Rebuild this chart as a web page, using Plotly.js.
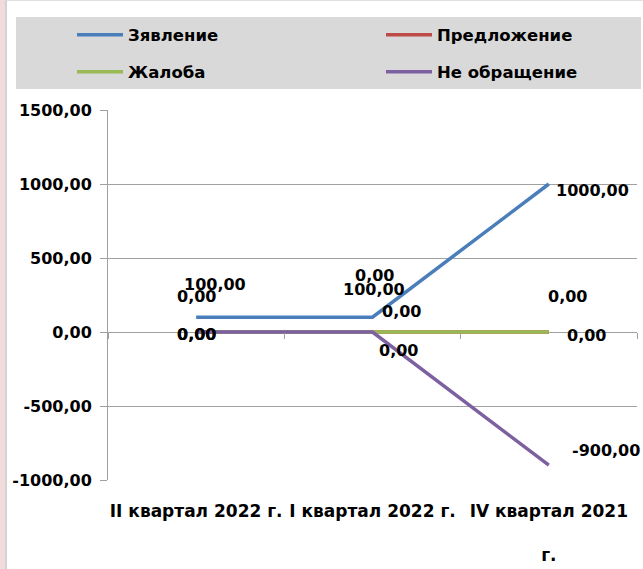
<!DOCTYPE html>
<html>
<head>
<meta charset="utf-8">
<script src="https://cdn.plot.ly/plotly-3.0.1.min.js"></script>
<style>html,body{margin:0;padding:0;background:#fff;}#chart{width:643px;height:569px;}</style>
</head>
<body>
<div id="chart"></div>
<script>
// ---- data ----
const categories = ["II квартал 2022 г.", "I квартал 2022 г.", "IV квартал 2021 г."];
const categoryLabels = ["II квартал 2022 г.", "I квартал 2022 г.", "IV квартал 2021<br><br>г."];
const seriesNames = ["Зявление", "Предложение", "Жалоба", "Не обращение"];
const zayavlenie = [100, 100, 1000];
const predlozhenie = [0, 0, 0];
const zhaloba = [0, 0, 0];
const neObrashchenie = [0, 0, -900];
const yTickVals = [-1000, -500, 0, 500, 1000, 1500];

// ---- styles ----
const colors = ["#4A7EBB", "#BE4B48", "#98B954", "#7D60A0"];
const FONT = "DejaVu Sans, Arial, sans-serif";
const W = 643, H = 569;
const M = {l: 108, r: 6, t: 110, b: 89};
const PW = W - M.l - M.r, PH = H - M.t - M.b;
const px2x = p => (p - M.l) / PW;
const py2y = p => (H - M.b - p) / PH;
const fmt = v => (v < 0 ? "-" : "") + Math.abs(v).toFixed(2).replace(".", ",");

// label offsets [xshift, yshift] per series per category (pixels)
const labelOffsets = [
  [[19, 33], [1, 28], [44, -6]],
  [[0, 36], [2, 57], [19, 36]],
  [[0, -2], [29, 21], [38, -3]],
  [[0, -2], [26, -18], [57, 15]]
];
// legend entry positions (pixels: left, centre y)
const legendPos = [[72, 35], [381, 35], [72, 72], [381, 72]];
const legendIds = ["legend", "legend2", "legend3", "legend4"];

const seriesValues = [zayavlenie, predlozhenie, zhaloba, neObrashchenie];

const traces = seriesValues.map((vals, i) => ({
  type: "scatter",
  mode: "lines",
  name: seriesNames[i],
  x: categories,
  y: vals,
  xaxis: i === 3 ? "x2" : "x",
  yaxis: "y",
  legend: legendIds[i],
  line: {color: colors[i], width: 3.5},
  hoverinfo: "skip"
}));

const annotations = [];
seriesValues.forEach((vals, i) => {
  vals.forEach((v, j) => {
    annotations.push({
      xref: "x", yref: "y", x: categories[j], y: v,
      text: fmt(v), showarrow: false,
      xshift: labelOffsets[i][j][0], yshift: labelOffsets[i][j][1],
      font: {family: FONT, size: 16, color: "#000", weight: "bold"}
    });
  });
});

const shapes = [
  {type: "rect", xref: "paper", yref: "paper", x0: px2x(16), x1: px2x(641), y0: py2y(89), y1: py2y(17),
   fillcolor: "#D9D9D9", line: {width: 0}, layer: "below"},
  {type: "rect", xref: "paper", yref: "paper", x0: px2x(0), x1: px2x(5), y0: py2y(569), y1: py2y(0),
   fillcolor: "#F2DCDB", line: {width: 0}, layer: "below"},
  {type: "line", xref: "paper", yref: "paper", x0: px2x(6), x1: px2x(6), y0: py2y(569), y1: py2y(0),
   line: {color: "#A6A6A6", width: 1}, layer: "below"},
  {type: "line", xref: "paper", yref: "paper", x0: px2x(6), x1: px2x(643), y0: py2y(0.5), y1: py2y(0.5),
   line: {color: "#E0E0E0", width: 1}, layer: "below"}
];

const legendFont = {family: FONT, size: 16.5, color: "#000", weight: "bold"};

const layout = {
  width: W, height: H, autosize: false,
  margin: M,
  paper_bgcolor: "#FFFFFF", plot_bgcolor: "#FFFFFF",
  showlegend: true,
  xaxis: {type: "category", categoryarray: categories, categoryorder: "array",
          range: [-0.5, 2.5], showgrid: false, showline: false, zeroline: false, ticks: "",
          tickvals: categories, ticktext: categoryLabels, tickangle: 0,
          ticklabelstandoff: 19,
          tickfont: {family: FONT, size: 17, color: "#000", weight: "bold"}},
  xaxis2: {type: "category", categoryarray: categories, categoryorder: "array",
           overlaying: "x", anchor: "free", position: py2y(332), range: [-0.5, 2.5],
           showgrid: false, showline: false, zeroline: false, showticklabels: false,
           ticks: "outside", tickson: "boundaries", ticklen: 6, tickcolor: "#A0A0A0", tickwidth: 1},
  yaxis: {range: [-1000, 1500], tickvals: yTickVals, ticktext: yTickVals.map(fmt),
          showgrid: true, gridcolor: "#A0A0A0", gridwidth: 1, zeroline: false,
          showline: true, linecolor: "#A0A0A0", linewidth: 1,
          ticks: "outside", ticklen: 7, tickcolor: "#A0A0A0", tickwidth: 1,
          ticklabelstandoff: 5,
          tickfont: {family: FONT, size: 16, color: "#000", weight: "bold"}},
  annotations: annotations,
  shapes: shapes
};

legendIds.forEach((id, i) => {
  layout[id] = {orientation: "h", x: px2x(legendPos[i][0]), xanchor: "left",
                y: py2y(legendPos[i][1]), yanchor: "middle",
                bgcolor: "rgba(0,0,0,0)", font: legendFont, itemwidth: 46};
});

Plotly.newPlot("chart", traces, layout, {staticPlot: true, displayModeBar: false});
</script>
</body>
</html>
